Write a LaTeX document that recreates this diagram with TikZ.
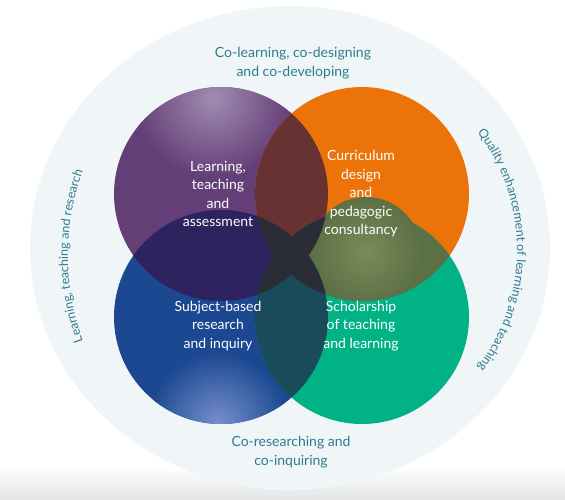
\documentclass[tikz,border=0pt]{standalone}
\usepackage{fontspec}
\setmainfont{Lato}
\usetikzlibrary{decorations.text}
\definecolor{tealc}{RGB}{45,125,142}
\definecolor{pale}{RGB}{240,245,248}
\definecolor{bandgrey}{RGB}{228,229,230}
\definecolor{purp}{RGB}{100,62,118}
\definecolor{purplight}{RGB}{160,140,178}
\definecolor{orng}{RGB}{236,115,8}
\definecolor{blu}{RGB}{27,72,145}
\definecolor{blulight}{RGB}{118,142,204}
\definecolor{grn}{RGB}{0,178,133}
\definecolor{po}{RGB}{105,50,50}
\definecolor{pb}{RGB}{45,35,95}
\definecolor{og}{RGB}{92,112,70}
\definecolor{oglight}{RGB}{122,138,88}
\definecolor{bg}{RGB}{25,75,90}
\definecolor{mid}{RGB}{42,44,54}
\begin{document}
\begin{tikzpicture}[x=1pt,y=1pt,
  intext/.style={text=white, align=center, font=\fontsize{14}{18.5}\selectfont, inner sep=0pt},
  outtext/.style={text=tealc, align=center, font=\fontsize{14}{19}\selectfont, inner sep=0pt}]
\useasboundingbox (0,0) rectangle (565,-499);
\fill[white] (0,0) rectangle (565,-499);
\shade[top color=white, bottom color=bandgrey] (0,-466) rectangle (565,-499);
\fill[pale] (290,-248) ellipse [x radius=260, y radius=242];

\coordinate (cP) at (221,-194);
\coordinate (cO) at (362,-194);
\coordinate (cB) at (221,-317);
\coordinate (cG) at (362,-317);
\def\R{107}

% base circles
\fill[purp] (cP) circle (\R);
\begin{scope}
  \clip (cP) circle (\R);
  \shade[inner color=purplight, outer color=purp] (213,-98) circle (80);
\end{scope}
\fill[orng] (cO) circle (\R);
\fill[blu] (cB) circle (\R);
\begin{scope}
  \clip (cB) circle (\R);
  \shade[inner color=blulight, outer color=blu] (218,-422) circle (70);
\end{scope}
\fill[grn] (cG) circle (\R);

% pairwise overlaps
\begin{scope}\clip (cP) circle (\R); \fill[po] (cO) circle (\R);\end{scope}
\begin{scope}\clip (cP) circle (\R); \fill[pb] (cB) circle (\R);\end{scope}
\begin{scope}\clip (cO) circle (\R); \fill[og] (cG) circle (\R);
  \shade[inner color=oglight, outer color=og] (366,-252) circle (55);\end{scope}
\begin{scope}\clip (cB) circle (\R); \fill[bg] (cG) circle (\R);\end{scope}
% central overlaps
\begin{scope}\clip (cO) circle (\R); \fill[mid] (cB) circle (\R);\end{scope}
\begin{scope}\clip (cP) circle (\R); \fill[mid] (cG) circle (\R);\end{scope}

% inner texts
\node[intext] (lta) at (218,-194) {Learning,\\teaching\\and\\assessment};
\node[intext] (cdp) at (361,-194) {Curriculum\\design\\and\\pedagogic\\consultancy};
\node[intext] (sbr) at (218,-326) {Subject-based\\research\\and inquiry};
\node[intext] (stl) at (361,-326) {Scholarship\\of teaching\\and learning};

% outer texts
\node[outtext] (top) at (293,-63) {Co-learning, co-designing\\and co-developing};
\node[outtext] (bot) at (291,-452) {Co-researching and\\co-inquiring};

% curved texts
\path[shift={(318,-256)}, decorate, decoration={text along path, text align=center,
  text={|\fontsize{12.5}{12.5}\selectfont\color{tealc}|Learning, teaching and research}}]
  (205:250) arc[start angle=205, end angle=155, radius=250];
\path[shift={(322,-250)}, decorate, decoration={text along path, text align=center,
  text={|\fontsize{12.5}{12.5}\selectfont\color{tealc}|Quality enhancement of learning and teaching}}]
  (50:195) arc[start angle=50, end angle=-50, radius=195];
\end{tikzpicture}
\end{document}
